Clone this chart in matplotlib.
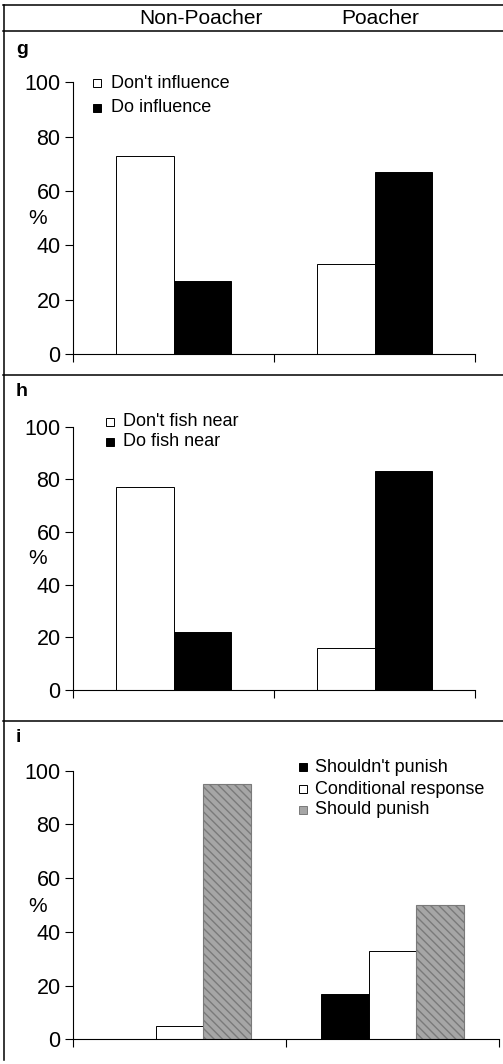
import matplotlib
matplotlib.use("Agg")
import matplotlib.pyplot as plt
from matplotlib.lines import Line2D
import numpy as np

plt.rcParams['font.family'] = ['Liberation Sans', 'DejaVu Sans']

# ---------------- data ----------------
groups = ["Non-Poacher", "Poacher"]

g_labels = ["Don't influence", "Do influence"]
g_dont = [73, 33]
g_do = [27, 67]

h_labels = ["Don't fish near", "Do fish near"]
h_dont = [77, 16]
h_do = [22, 83]

i_labels = ["Shouldn't punish", "Conditional response", "Should punish"]
i_shouldnt = [0, 17]
i_conditional = [5, 33]
i_should = [95, 50]

yticks = [0, 20, 40, 60, 80, 100]
panel_letters = ["g", "h", "i"]

# ---------------- layout helpers ----------------
W, H = 503, 1064
fig = plt.figure(figsize=(W / 100, H / 100), dpi=100)
fig.patch.set_facecolor("white")


def fx(x):
    return x / W


def fy(y):
    return 1 - y / H


def add_ax(left, right, y0, y100):
    ax = fig.add_axes([fx(left), fy(y0), (right - left) / W, (y0 - y100) / H])
    ax.set_xlim(0, 2)
    ax.set_ylim(0, 100)
    for s in ["top", "right"]:
        ax.spines[s].set_visible(False)
    for s in ["left", "bottom"]:
        ax.spines[s].set_linewidth(0.8)
    ax.set_yticks(yticks)
    ax.set_yticklabels([str(t) for t in yticks], fontsize=15.5)
    ax.set_xticks([0, 1, 2])
    ax.set_xticklabels([])
    ax.tick_params(axis="both", direction="out", length=6, width=0.8, pad=3)
    ax.patch.set_alpha(0)
    return ax


def legend_items(items, x_marker, x_text, ys, fs=13):
    for (label, fc, ec), y in zip(items, ys):
        fig.add_artist(Line2D([fx(x_marker)], [fy(y)], marker="s", linestyle="",
                              markersize=6, markerfacecolor=fc, markeredgecolor=ec,
                              markeredgewidth=0.7, transform=fig.transFigure))
        fig.text(fx(x_text), fy(y), label, fontsize=fs, va="center", ha="left")


centers = np.array([0.5, 1.5])
gray = "#a6a6a6"
gray_edge = "#7a7a7a"

# ---------------- panel g ----------------
axg = add_ax(73, 475, 354, 82.5)
w2 = 0.286
axg.bar(centers - w2 / 2, g_dont, w2, color="white", edgecolor="black", linewidth=0.7)
axg.bar(centers + w2 / 2, g_do, w2, color="black", edgecolor="black", linewidth=0.7)
legend_items([(g_labels[0], "white", "black"), (g_labels[1], "black", "black")],
             97, 111, [83, 108])
fig.text(fx(38), fy(219), "%", fontsize=15, ha="center", va="center")

# ---------------- panel h ----------------
axh = add_ax(73, 475, 690, 426.7)
axh.bar(centers - w2 / 2, h_dont, w2, color="white", edgecolor="black", linewidth=0.7)
axh.bar(centers + w2 / 2, h_do, w2, color="black", edgecolor="black", linewidth=0.7)
legend_items([(h_labels[0], "white", "black"), (h_labels[1], "black", "black")],
             110, 123, [421.7, 442])
fig.text(fx(38), fy(558), "%", fontsize=15, ha="center", va="center")

# ---------------- panel i ----------------
axi = add_ax(73, 499, 1039.3, 770.7)
w3 = 0.225
axi.bar(centers - w3, i_shouldnt, w3, color="black", edgecolor="black", linewidth=0.7)
axi.bar(centers, i_conditional, w3, color="white", edgecolor="black", linewidth=0.7)
axi.bar(centers + w3, i_should, w3, color=gray, edgecolor=gray_edge,
        linewidth=0.8, hatch="\\\\\\\\")
legend_items([(i_labels[0], "black", "black"), (i_labels[1], "white", "black"),
              (i_labels[2], gray, gray_edge)],
             303, 315, [767, 789, 810])
fig.text(fx(38), fy(907), "%", fontsize=15, ha="center", va="center")

# ---------------- frame lines, headers, letters ----------------
for y in [5, 31, 375, 720.5]:
    fig.add_artist(Line2D([fx(3), 1], [fy(y), fy(y)], color="black", linewidth=1.1,
                          transform=fig.transFigure))
fig.add_artist(Line2D([fx(4), fx(4)], [fy(5), fy(1060)], color="black", linewidth=1.1,
                      transform=fig.transFigure))

fig.text(fx(201), fy(19), groups[0], fontsize=15, ha="center", va="center")
fig.text(fx(380), fy(19), groups[1], fontsize=15, ha="center", va="center")

for letter, y in zip(panel_letters, [50, 392, 737]):
    fig.text(fx(16), fy(y), letter, fontsize=14, fontweight="bold", ha="left", va="center")

fig.savefig("out.png", dpi=100, facecolor="white")
